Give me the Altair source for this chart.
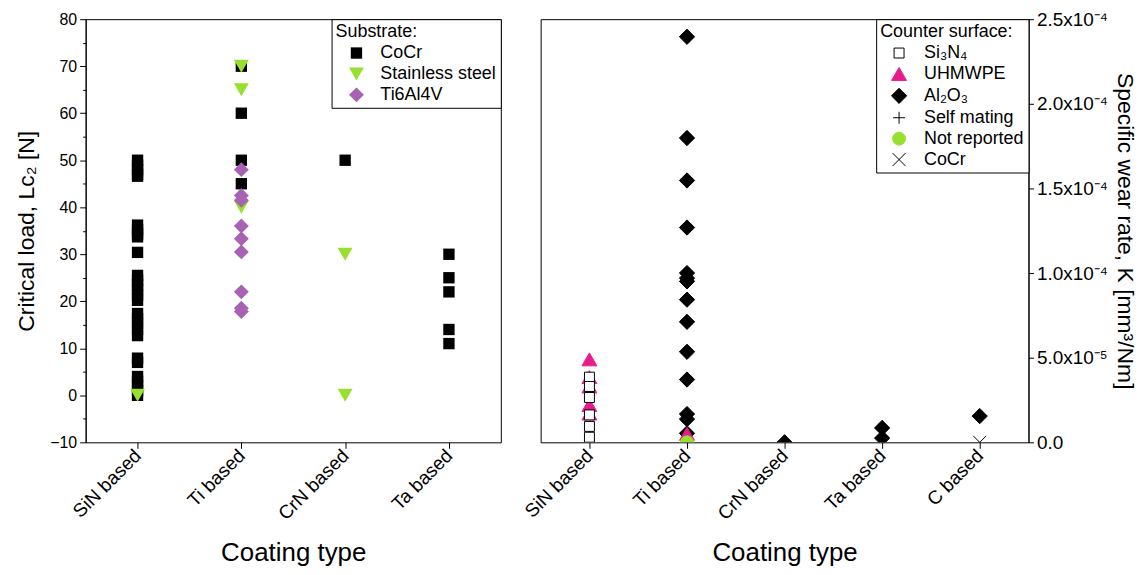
import altair as alt
import pandas as pd

FONT = "Liberation Sans"

# ---------------- data ----------------
left_categories = ["SiN based", "Ti based", "CrN based", "Ta based"]
right_categories = ["SiN based", "Ti based", "CrN based", "Ta based", "C based"]

substrates = ["CoCr", "Stainless steel", "Ti6Al4V"]
substrate_colors = ["#000000", "#97e030", "#a862b3"]

# Critical load L_C2 [N]
sin_cocr = [50, 49, 48, 47, 46.6, 36.2, 35.2, 34.3, 33.7, 30.4, 25.5, 24.5, 23.5, 22.5,
            21.3, 20.2, 17.4, 16.3, 15.2, 14.0, 12.7, 7.9, 7.0, 4.0, 3.0, 2.0, 1.0, 0.0]
sin_ss = [0]
ti_cocr = [70, 60, 50, 45]
ti_ss = [70, 65, 40]
ti_ti6al4v = [48, 42.5, 41.5, 36, 33.3, 30.5, 22, 18.5, 17.8]
crn_cocr = [50]
crn_ss = [30, 0]
ta_cocr = [30, 25, 22, 14, 11]

counters = ["Si\u2083N\u2084", "UHMWPE", "Al\u2082O\u2083", "Self mating", "Not reported", "CoCr"]

# Specific wear rate K [mm^3/Nm]
sin_uhmwpe = [0.49e-4, 0.385e-4, 0.33e-4, 0.22e-4, 0.17e-4]
sin_si3n4 = [0.385e-4, 0.33e-4, 0.265e-4, 0.162e-4, 0.094e-4, 0.03e-4]
ti_al2o3 = [2.396e-4, 1.798e-4, 1.547e-4, 1.269e-4, 1.0e-4, 0.97e-4, 0.951e-4, 0.843e-4,
            0.712e-4, 0.535e-4, 0.371e-4, 0.167e-4, 0.137e-4, 0.053e-4]
ti_uhmwpe = [0.05e-4]
ti_not_reported = [0.0]
crn_al2o3 = [0.0]
ta_al2o3 = [0.085e-4, 0.025e-4]
c_al2o3 = [0.155e-4]
c_cocr = [0.0]

# ---------------- tables ----------------
rows_left = []
for coat, sub, vals in [
    ("SiN based", "CoCr", sin_cocr), ("Ti based", "CoCr", ti_cocr),
    ("CrN based", "CoCr", crn_cocr), ("Ta based", "CoCr", ta_cocr),
    ("SiN based", "Stainless steel", sin_ss), ("Ti based", "Stainless steel", ti_ss),
    ("CrN based", "Stainless steel", crn_ss),
    ("Ti based", "Ti6Al4V", ti_ti6al4v),
]:
    for v in vals:
        rows_left.append({"coating": coat, "substrate": sub, "lc2": v})
df_left = pd.DataFrame(rows_left)

rows_right = []
for coat, cs, vals in [
    ("SiN based", counters[1], sin_uhmwpe), ("SiN based", counters[0], sin_si3n4),
    ("Ti based", counters[2], ti_al2o3), ("Ti based", counters[1], ti_uhmwpe),
    ("Ti based", counters[4], ti_not_reported), ("CrN based", counters[2], crn_al2o3),
    ("Ta based", counters[2], ta_al2o3), ("C based", counters[2], c_al2o3),
    ("C based", counters[5], c_cocr),
]:
    for v in vals:
        rows_right.append({"coating": coat, "counter": cs, "k": v})
df_right = pd.DataFrame(rows_right)

# ---------------- styling ----------------
x_axis = alt.Axis(
    title="Coating type", titleFontSize=26, titlePadding=16,
    labelAngle=-45, labelAlign="right", labelBaseline="middle",
    labelFontSize=19, labelPadding=4, tickSize=6, domain=False,
)

def make_legend(title, sym_offset, lab_offset, stroke_w):
    return alt.Legend(
        title=title, orient="top-right", offset=0, padding=4,
        strokeColor="black", fillColor="white", cornerRadius=0,
        titleFontSize=18, titleFontWeight="normal", titleFont=FONT, titleColor="black",
        titlePadding=3, labelFontSize=18, labelFont=FONT, labelColor="black",
        symbolOffset=sym_offset, labelOffset=lab_offset, rowPadding=3,
        symbolStrokeWidth=stroke_w, symbolOpacity=1,
    )

left_legend = make_legend("Substrate:", 12, 15, 0)
right_legend = make_legend("Counter surface:", 10, 16, 1)

left = alt.Chart(df_left).mark_point(filled=True, opacity=1, strokeWidth=0).encode(
    x=alt.X("coating:N", sort=left_categories, scale=alt.Scale(domain=left_categories), axis=x_axis),
    y=alt.Y(
        "lc2:Q",
        scale=alt.Scale(domain=[-10, 80], nice=False, zero=False),
        axis=alt.Axis(
            title="Critical load, L\u1d04\u2082 [N]", titleFontSize=23, titlePadding=11,
            values=list(range(-10, 85, 5)),
            labelExpr="datum.value % 10 === 0 ? datum.label : ''",
            labelFontSize=16, labelPadding=3,
            tickSize={"condition": {"test": "datum.value % 10 === 0", "value": 6}, "value": 3},
            domainColor="black",
        ),
    ),
    shape=alt.Shape("substrate:N", scale=alt.Scale(domain=substrates, range=["square", "triangle-down", "diamond"]), legend=left_legend),
    color=alt.Color("substrate:N", scale=alt.Scale(domain=substrates, range=substrate_colors), legend=left_legend),
    size=alt.Size("substrate:N", scale=alt.Scale(type="ordinal", domain=substrates, range=[130, 225, 225]), legend=left_legend),
).properties(width=417, height=425)

plus_path = "M-1,0L1,0M0,-1L0,1"
x_path = "M-1,-1L1,1M-1,1L1,-1"

right = alt.Chart(df_right).mark_point(filled=True, opacity=1, strokeWidth=1, clip=True).encode(
    x=alt.X("coating:N", sort=right_categories, scale=alt.Scale(domain=right_categories), axis=x_axis),
    y=alt.Y(
        "k:Q",
        scale=alt.Scale(domain=[0, 2.5e-4], nice=False, zero=False),
        axis=alt.Axis(
            orient="right",
            title="Specific wear rate, K [mm\u00b3/Nm]", titleFontSize=23, titleAngle=90, titlePadding=5,
            values=[0, 0.5e-4, 1.0e-4, 1.5e-4, 2.0e-4, 2.5e-4],
            labelExpr="datum.value == 0 ? '0.0' : (datum.value < 0.00009 ? '5.0x10\u207b\u2075' : format(datum.value * 10000, '.1f') + 'x10\u207b\u2074')",
            labelFontSize=19, labelPadding=3, tickSize=5, domainColor="black",
        ),
    ),
    shape=alt.Shape("counter:N", scale=alt.Scale(domain=counters, range=["square", "triangle-up", "diamond", plus_path, "circle", x_path]), legend=right_legend),
    fill=alt.Fill("counter:N", scale=alt.Scale(domain=counters, range=["white", "#e81a8c", "#000000", "transparent", "#97e030", "transparent"]), legend=right_legend),
    stroke=alt.Stroke("counter:N", scale=alt.Scale(domain=counters, range=["#000000", "#e81a8c", "#000000", "#000000", "#97e030", "#000000"]), legend=right_legend),
    size=alt.Size("counter:N", scale=alt.Scale(type="ordinal", domain=counters, range=[100, 225, 235, 144, 169, 169]), legend=right_legend),
).properties(width=490, height=425)

chart = alt.hconcat(left, right, spacing=40, bounds="flush").resolve_scale(
    x="independent", y="independent", shape="independent", color="independent",
    size="independent", fill="independent", stroke="independent",
).resolve_legend(
    shape="independent", color="independent", size="independent",
    fill="independent", stroke="independent",
).properties(
    padding={"left": 7, "top": 0, "right": 4, "bottom": 0}
).configure_view(
    stroke="black", strokeWidth=1
).configure_axis(
    labelFont=FONT, titleFont=FONT, labelColor="black", titleColor="black",
    domainColor="black", tickColor="black", grid=False, titleFontWeight="normal",
)

chart.save("out.html", embed_options={"renderer": "svg", "actions": False})
